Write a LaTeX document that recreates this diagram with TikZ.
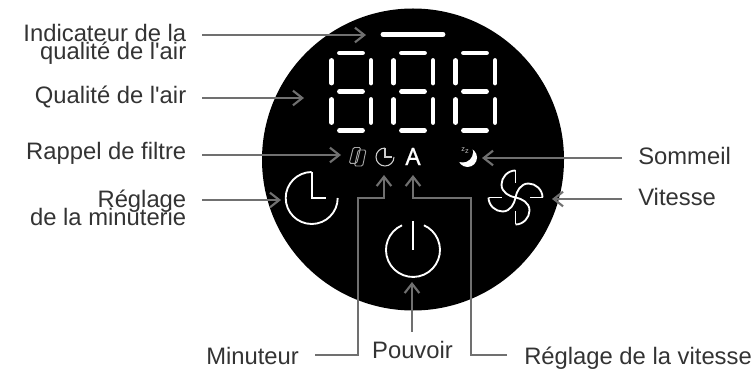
\documentclass[tikz,border=0pt]{standalone}
\usepackage{fontspec}
\newfontfamily\labfont{Liberation Sans}
\newfontfamily\iconfont[FakeBold=0.6]{Noto Sans}
\usetikzlibrary{arrows.meta}
\definecolor{arrowgray}{HTML}{707070}
\definecolor{txt}{HTML}{333333}
\newcommand{\labset}{\fontsize{17.85pt}{13.6pt}\selectfont\labfont\lineskiplimit -100pt\relax}
\tikzset{
  x=0.75pt,y=-0.75pt,
  lab/.style={font=\labset,text=txt,inner sep=0pt,align=right},
  conn/.style={draw=arrowgray,line width=1.6pt,-{Straight Barb[length=7pt,width=11pt,line width=1.6pt]}},
  seg/.style={draw=white,line width=3.6pt,line cap=round},
  icon/.style={draw=white,line width=0.8pt},
  iconthick/.style={draw=white,line width=1.4pt},
}
\begin{document}
\begin{tikzpicture}
\useasboundingbox (0,0) rectangle (753,370);
\fill[black] (413,159.5) circle (151);
% indicator bar
\draw[seg] (383,34.3) -- (443,34.3);
% digits
\foreach \dx in {0,62,124}{
  \begin{scope}[shift={(\dx,0)}]
  \draw[seg] (339.5,53) -- (362.5,53);
  \draw[seg] (339.5,91.7) -- (362.5,91.7);
  \draw[seg] (339.5,130.7) -- (362.5,130.7);
  \draw[seg] (331.7,60.5) -- (331.7,83);
  \draw[seg] (331.7,99.5) -- (331.7,122.5);
  \draw[seg] (371,60.5) -- (371,83);
  \draw[seg] (371,99.5) -- (371,122.5);
  \end{scope}
}
% filter icon
\draw[icon,draw=white!65!black,line width=0.7pt,rounded corners=1pt] (353.3,147.5) -- (360.7,147.5) -- (356.7,163.3) -- (349.3,163.3) -- cycle;
\draw[icon,draw=white!65!black,line width=0.7pt,rounded corners=1pt] (358.3,150) -- (366,150) -- (362.7,166) -- (354.5,166) -- cycle;
% small clock
\draw[icon,draw=white!80!black] (385,148) arc (-90:-360:9);
\draw[icon,draw=white!80!black] (385,148) -- (385,157) -- (392,157);
% A
\node[font=\fontsize{18pt}{18pt}\selectfont\iconfont,text=white,inner sep=0pt] (autoA) at (413,156.5) {A};
% moon
\fill[white] (467.5,157.5) circle (9.5);
\fill[black] (462.5,152) circle (10.5);
\node[font=\fontsize{5.5pt}{5.5pt}\selectfont\labfont,text=white!75!black,inner sep=0pt] (zz) at (465,150.5) {z\raisebox{-1pt}{z}};
% big clock
\draw[iconthick] (311.7,172) arc (-90:-360:26);
\draw[iconthick] (311.7,172) -- (311.7,198) -- (325.5,198);
% power
\draw[iconthick] (402,225.3) arc (-114:-426:27);
\draw[iconthick] (413,221) -- (413,250);
% fan
\begin{scope}[shift={(515.5,197.5)}]
\draw[iconthick] (0,-27) .. controls (-8,-27) and (-14,-20) .. (-14,-13) .. controls (-14,-5) and (-6,-1) .. (0,0) .. controls (6,1) and (14,5) .. (14,13) .. controls (14,20) and (8,27) .. (0,27);
\draw[iconthick] (27,0) .. controls (27,-8) and (20,-14) .. (13,-14) .. controls (5,-14) and (1,-6) .. (0,0) .. controls (-1,6) and (-5,14) .. (-13,14) .. controls (-20,14) and (-27,8) .. (-27,0);
\draw[iconthick] (0,-27) -- (0,-14);
\draw[iconthick] (0,27) -- (0,14);
\draw[iconthick] (27,0) -- (14,0);
\draw[iconthick] (-27,0) -- (-14,0);
\end{scope}
% labels
\node[lab,anchor=east] (lindic) at (186.5,44) {Indicateur de la\\qualité de l'air};
\node[lab,anchor=base east] (lqual) at (186.5,104) {Qualité de l'air};
\node[lab,anchor=base east] (lfilt) at (186.5,160) {Rappel de filtre};
\node[lab,anchor=east] (lregl) at (186.5,208) {Réglage\\de la minuterie};
\node[lab,anchor=base west] (lsomm) at (638,164.5) {Sommeil};
\node[lab,anchor=base west] (lvit) at (638,205.5) {Vitesse};
\node[lab,anchor=base west] (lmin) at (206,364) {Minuteur};
\node[lab,anchor=base] (lpouv) at (412.5,358) {Pouvoir};
\node[lab,anchor=base west] (lvite) at (524,364) {Réglage de la vitesse};
% anchors
\coordinate (a1s) at (202,35); \coordinate (a1e) at (366,35);
\coordinate (a2s) at (202,98); \coordinate (a2e) at (304,98);
\coordinate (a3s) at (202,155); \coordinate (a3e) at (341,155);
\coordinate (a4s) at (202,200); \coordinate (a4e) at (281,200);
\coordinate (a5s) at (622,158); \coordinate (a5e) at (482,158);
\coordinate (a6s) at (622,199); \coordinate (a6e) at (552,199);
\coordinate (m0) at (315,355); \coordinate (m1) at (358.3,355); \coordinate (m2) at (358.3,198); \coordinate (m3) at (384,198); \coordinate (m4) at (384,175);
\coordinate (v0) at (507,355); \coordinate (v1) at (471,355); \coordinate (v2) at (471,198); \coordinate (v3) at (413,198); \coordinate (v4) at (413,175);
\coordinate (p0) at (412,331.5); \coordinate (p1) at (412,282);
\path[conn] (a1s) -- (a1e);
\path[conn] (a2s) -- (a2e);
\path[conn] (a3s) -- (a3e);
\path[conn] (a4s) -- (a4e);
\path[conn] (a5s) -- (a5e);
\path[conn] (a6s) -- (a6e);
\path[conn] (m0) -- (m1) -- (m2) -- (m3) -- (m4);
\path[conn] (v0) -- (v1) -- (v2) -- (v3) -- (v4);
\path[conn] (p0) -- (p1);
\end{tikzpicture}
\end{document}
